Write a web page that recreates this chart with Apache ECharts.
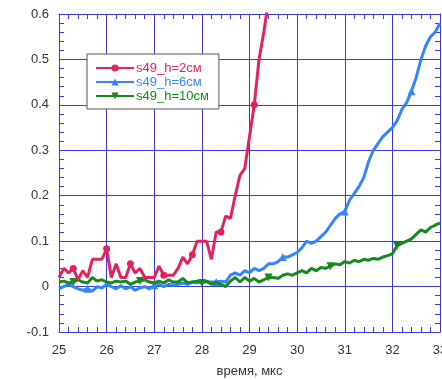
<!DOCTYPE html>
<html>
<head>
<meta charset="utf-8">
<script src="https://cdn.jsdelivr.net/npm/echarts@6/dist/echarts.min.js"></script>
<style>
  html, body { margin: 0; padding: 0; background: #fff; }
  #chart { width: 442px; height: 380px; }
</style>
</head>
<body>
<div id="chart"></div>
<script>
// sampling: every 0.1 us starting at 25
var tStart = 25
var tStep = 0.1

var seriesNames = ['s49_h=2см', 's49_h=6см', 's49_h=10см']

// s49_h=2см (runs off the top just after 29.3)
var redValues = [
  0.02, 0.04, 0.03, 0.04, 0.015, 0.035, 0.02, 0.06, 0.06, 0.06,
  0.083, 0.02, 0.05, 0.02, 0.02, 0.05, 0.03, 0.04, 0.02, 0.02,
  0.02, 0.045, 0.025, 0.025, 0.025, 0.04, 0.065, 0.05, 0.07, 0.10,
  0.10, 0.10, 0.06, 0.12, 0.12, 0.155, 0.15, 0.2, 0.245, 0.26,
  0.33, 0.40, 0.50, 0.56, 0.63
]
// s49_h=6см
var blueValues = [
  -0.005, 0.0, 0.005, 0.0, -0.005, -0.008, -0.005, -0.01, 0.0, -0.003,
  0.005, 0.0, -0.005, 0.002, -0.005, 0.0, -0.008, -0.003, 0.0, -0.005,
  0.003, 0.005, 0.0, 0.005, 0.003, 0.005, 0.008, 0.005, 0.01, 0.008,
  0.012, 0.01, 0.01, 0.01, 0.012, 0.01, 0.025, 0.03, 0.025, 0.035,
  0.03, 0.04, 0.035, 0.04, 0.05, 0.05, 0.055, 0.065, 0.065, 0.07,
  0.075, 0.085, 0.1, 0.095, 0.1, 0.11, 0.12, 0.135, 0.15, 0.16,
  0.165, 0.19, 0.205, 0.22, 0.24, 0.275, 0.30, 0.315, 0.33, 0.34,
  0.35, 0.365, 0.39, 0.405, 0.43, 0.46, 0.50, 0.53, 0.55, 0.56,
  0.58
]
// s49_h=10см
var greenValues = [
  0.01, 0.012, 0.008, 0.01, 0.015, 0.01, 0.008, 0.02, 0.012, 0.015,
  0.01, 0.008, 0.012, 0.01, 0.012, 0.005, 0.01, 0.012, 0.015, 0.01,
  0.008, 0.012, 0.008, 0.015, 0.01, 0.01, 0.018, 0.008, 0.01, 0.012,
  0.008, 0.012, 0.005, 0.01, 0.005, 0.0, 0.012, 0.02, 0.01, 0.02,
  0.012, 0.018, 0.01, 0.015, 0.02, 0.02, 0.018, 0.025, 0.028, 0.025,
  0.03, 0.035, 0.03, 0.04, 0.035, 0.042, 0.04, 0.045, 0.05, 0.048,
  0.055, 0.052, 0.058, 0.055, 0.06, 0.058, 0.062, 0.06, 0.065, 0.068,
  0.072, 0.09, 0.095, 0.1, 0.105, 0.115, 0.125, 0.12, 0.13, 0.135,
  0.14
]

// which samples carry a marker
var redMarks = [3, 10, 15, 22, 28, 34, 41]
var blueMarks = [6, 20, 33, 47, 60, 74]
var greenMarks = [3, 17, 30, 44, 57, 71]

var colors = ['#e4225c', '#3584ff', '#148a1c']
var gridBlue = '#3a3ad6'
var font = 'Arial, "Liberation Sans", sans-serif'

function toPairs(values) {
  return values.map(function (v, i) {
    return [+(tStart + i * tStep).toFixed(2), v]
  })
}

function markSize(marks, size) {
  return function (val, params) {
    return marks.indexOf(params.dataIndex) >= 0 ? size : 0
  }
}

var myChart = echarts.init(document.getElementById('chart'))

var frameAxis = {
  axisLine: { show: true, onZero: false, lineStyle: { color: gridBlue, width: 1 } },
  axisTick: { show: true, inside: true, length: 5, lineStyle: { color: gridBlue } },
  minorTick: { show: true, splitNumber: 5, length: 5, lineStyle: { color: gridBlue } },
  splitLine: { show: false },
  axisLabel: { show: false }
}

var option = {
  animation: false,
  backgroundColor: '#fff',
  grid: { left: 59, top: 14, right: 2, bottom: 48, outerBoundsMode: 'none', containLabel: false },
  legend: {
    orient: 'vertical',
    left: 87,
    top: 54,
    padding: [7, 10, 6, 8],
    itemGap: 0,
    itemWidth: 38,
    itemHeight: 9,
    backgroundColor: '#fff',
    borderColor: '#555',
    borderWidth: 1,
    data: seriesNames.map(function (n, i) {
      return { name: n, textStyle: { color: colors[i] } }
    }),
    textStyle: { fontFamily: font, fontSize: 13, lineHeight: 14, padding: [0, 0, 0, -3] }
  },
  xAxis: [
    {
      type: 'value',
      min: 25,
      max: 33,
      interval: 1,
      name: 'время, мкс',
      nameLocation: 'middle',
      nameGap: 33,
      nameTextStyle: { fontFamily: font, fontSize: 13, color: '#333' },
      axisLine: { show: true, onZero: false, lineStyle: { color: gridBlue, width: 1 } },
      axisTick: { show: true, inside: true, length: 5, lineStyle: { color: gridBlue } },
      minorTick: { show: true, splitNumber: 5, length: 5, lineStyle: { color: gridBlue } },
      splitLine: { show: true, lineStyle: { color: gridBlue, width: 1 } },
      axisLabel: { fontFamily: font, fontSize: 13, color: '#333', margin: 12 }
    },
    Object.assign({ type: 'value', min: 25, max: 33, interval: 1, position: 'top' }, frameAxis)
  ],
  yAxis: [
    {
      type: 'value',
      min: -0.1,
      max: 0.6,
      interval: 0.1,
      axisLine: { show: true, onZero: false, lineStyle: { color: gridBlue, width: 1 } },
      axisTick: { show: true, inside: true, length: 5, lineStyle: { color: gridBlue } },
      minorTick: { show: true, splitNumber: 5, length: 5, lineStyle: { color: gridBlue } },
      splitLine: { show: true, lineStyle: { color: gridBlue, width: 1 } },
      axisLabel: { fontFamily: font, fontSize: 13, color: '#333', margin: 10 }
    },
    Object.assign({ type: 'value', min: -0.1, max: 0.6, interval: 0.1, position: 'right' }, frameAxis)
  ],
  series: [
    {
      name: seriesNames[0],
      type: 'line',
      data: toPairs(redValues),
      symbol: 'circle',
      symbolSize: markSize(redMarks, 7),
      showAllSymbol: true,
      color: colors[0],
      lineStyle: { width: 3, color: colors[0] },
      itemStyle: { color: colors[0] },
      z: 4
    },
    {
      name: seriesNames[1],
      type: 'line',
      data: toPairs(blueValues),
      symbol: 'triangle',
      symbolSize: markSize(blueMarks, 8),
      showAllSymbol: true,
      color: colors[1],
      lineStyle: { width: 3, color: colors[1] },
      itemStyle: { color: colors[1] },
      z: 2
    },
    {
      name: seriesNames[2],
      type: 'line',
      data: toPairs(greenValues),
      symbol: 'triangle',
      symbolRotate: 180,
      symbolSize: markSize(greenMarks, 8),
      showAllSymbol: true,
      color: colors[2],
      lineStyle: { width: 3, color: colors[2] },
      itemStyle: { color: colors[2] },
      z: 3
    }
  ]
}

myChart.setOption(option)
</script>
</body>
</html>
